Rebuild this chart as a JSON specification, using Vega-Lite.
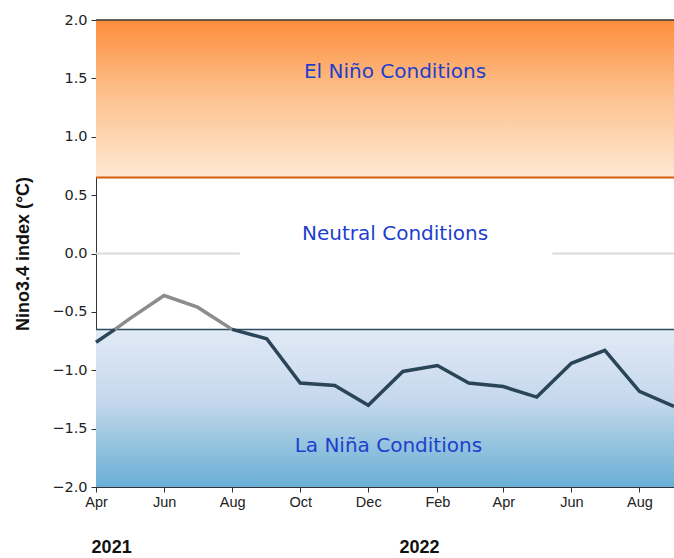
{
  "$schema": "https://vega.github.io/schema/vega-lite/v6.json",
  "width": 578,
  "height": 467,
  "autosize": {"type": "none"},
  "padding": {"left": 96, "top": 20, "right": 0, "bottom": 71},
  "background": "white",
  "view": {"stroke": null},
  "datasets": {
    "series": [
      {"date": "2021-04-01", "value": -0.76, "seg": "below1"},
      {"date": "2021-04-18", "value": -0.65, "seg": "below1"},
      {"date": "2021-04-18", "value": -0.65, "seg": "above"},
      {"date": "2021-05-01", "value": -0.56, "seg": "above"},
      {"date": "2021-06-01", "value": -0.36, "seg": "above"},
      {"date": "2021-07-01", "value": -0.46, "seg": "above"},
      {"date": "2021-08-01", "value": -0.65, "seg": "above"},
      {"date": "2021-08-01", "value": -0.65, "seg": "below2"},
      {"date": "2021-09-01", "value": -0.73, "seg": "below2"},
      {"date": "2021-10-01", "value": -1.11, "seg": "below2"},
      {"date": "2021-11-01", "value": -1.13, "seg": "below2"},
      {"date": "2021-12-01", "value": -1.30, "seg": "below2"},
      {"date": "2022-01-01", "value": -1.01, "seg": "below2"},
      {"date": "2022-02-01", "value": -0.96, "seg": "below2"},
      {"date": "2022-03-01", "value": -1.11, "seg": "below2"},
      {"date": "2022-04-01", "value": -1.14, "seg": "below2"},
      {"date": "2022-05-01", "value": -1.23, "seg": "below2"},
      {"date": "2022-06-01", "value": -0.94, "seg": "below2"},
      {"date": "2022-07-01", "value": -0.83, "seg": "below2"},
      {"date": "2022-08-01", "value": -1.18, "seg": "below2"},
      {"date": "2022-09-01", "value": -1.31, "seg": "below2"}
    ],
    "bands": [
      {"start": "2021-04-01", "end": "2022-09-01", "lo": 0.65, "hi": 2.0, "band": "elnino"},
      {"start": "2021-04-01", "end": "2022-09-01", "lo": -2.0, "hi": -0.65, "band": "lanina"}
    ],
    "zero": [
      {"start": "2021-04-01", "end": "2021-08-08", "value": 0},
      {"start": "2022-05-15", "end": "2022-09-01", "value": 0}
    ],
    "labels": [
      {"date": "2021-12-25", "value": 1.555, "text": "El Niño Conditions"},
      {"date": "2021-12-25", "value": 0.167, "text": "Neutral Conditions"},
      {"date": "2021-12-19", "value": -1.65, "text": "La Niña Conditions"}
    ],
    "years": [
      {"date": "2021-04-15", "value": -2.52, "text": "2021"},
      {"date": "2022-01-16", "value": -2.52, "text": "2022"}
    ]
  },
  "encoding": {
    "x": {
      "field": "date",
      "type": "temporal",
      "scale": {"type": "utc", "domain": [{"year": 2021, "month": 4, "date": 1, "utc": true}, {"year": 2022, "month": 9, "date": 1, "utc": true}]},
      "axis": {
        "title": null,
        "labelExpr": "utcFormat(datum.value, '%b')",
        "values": [
          {"year": 2021, "month": 4, "date": 1, "utc": true},
          {"year": 2021, "month": 6, "date": 1, "utc": true},
          {"year": 2021, "month": 8, "date": 1, "utc": true},
          {"year": 2021, "month": 10, "date": 1, "utc": true},
          {"year": 2021, "month": 12, "date": 1, "utc": true},
          {"year": 2022, "month": 2, "date": 1, "utc": true},
          {"year": 2022, "month": 4, "date": 1, "utc": true},
          {"year": 2022, "month": 6, "date": 1, "utc": true},
          {"year": 2022, "month": 8, "date": 1, "utc": true}
        ],
        "grid": false,
        "domainColor": "#333333",
        "tickColor": "#333333",
        "tickSize": 5,
        "labelFont": "Liberation Sans",
        "labelFontSize": 14.5,
        "labelColor": "#222222",
        "labelPadding": 3,
        "labelFlush": false
      }
    },
    "y": {
      "field": "value",
      "type": "quantitative",
      "scale": {"domain": [-2, 2], "nice": false, "zero": false},
      "axis": {
        "title": "Nino3.4 index (°C)",
        "titleFont": "Liberation Sans",
        "titleFontSize": 18,
        "titleFontWeight": "bold",
        "titleColor": "#111111",
        "titlePadding": 19,
        "values": [-2, -1.5, -1, -0.5, 0, 0.5, 1, 1.5, 2],
        "format": ".1f",
        "grid": false,
        "domainColor": "#333333",
        "tickColor": "#333333",
        "tickSize": 5,
        "labelFont": "DejaVu Sans",
        "labelFontSize": 14.5,
        "labelColor": "#222222",
        "labelPadding": 4
      }
    }
  },
  "layer": [
    {
      "data": {"name": "bands"},
      "transform": [{"filter": "datum.band === 'elnino'"}],
      "mark": {"type": "rect", "color": {"gradient": "linear", "x1": 0, "y1": 0, "x2": 0, "y2": 1, "stops": [{"offset": 0, "color": "#fd8d3c"}, {"offset": 0.45, "color": "#fdbf8a"}, {"offset": 1, "color": "#fee8d3"}]}},
      "encoding": {
        "x": {"field": "start", "type": "temporal"},
        "x2": {"field": "end"},
        "y": {"field": "hi", "type": "quantitative"},
        "y2": {"field": "lo"}
      }
    },
    {
      "data": {"name": "bands"},
      "transform": [{"filter": "datum.band === 'lanina'"}],
      "mark": {"type": "rect", "color": {"gradient": "linear", "x1": 0, "y1": 0, "x2": 0, "y2": 1, "stops": [{"offset": 0, "color": "#e1eaf6"}, {"offset": 0.45, "color": "#c6d8ed"}, {"offset": 0.7, "color": "#9ac6e0"}, {"offset": 1, "color": "#6aaed6"}]}},
      "encoding": {
        "x": {"field": "start", "type": "temporal"},
        "x2": {"field": "end"},
        "y": {"field": "hi", "type": "quantitative"},
        "y2": {"field": "lo"}
      }
    },
    {
      "data": {"name": "zero"},
      "mark": {"type": "rule", "color": "#d9d9d9", "strokeWidth": 2},
      "encoding": {
        "x": {"field": "start", "type": "temporal"},
        "x2": {"field": "end"},
        "y": {"field": "value", "type": "quantitative"}
      }
    },
    {
      "data": {"values": [{"value": 0.65}]},
      "mark": {"type": "rule", "color": "#d55e0e", "strokeWidth": 2},
      "encoding": {"y": {"field": "value", "type": "quantitative"}, "x": null}
    },
    {
      "data": {"values": [{"value": -0.65}]},
      "mark": {"type": "rule", "color": "#2f4b60", "strokeWidth": 1.5},
      "encoding": {"y": {"field": "value", "type": "quantitative"}, "x": null}
    },
    {
      "data": {"values": [{"value": 2}]},
      "mark": {"type": "rule", "color": "#333333", "strokeWidth": 1.5},
      "encoding": {"y": {"field": "value", "type": "quantitative"}, "x": null}
    },
    {
      "data": {"name": "series"},
      "mark": {"type": "line", "strokeWidth": 3.5, "strokeJoin": "miter", "strokeCap": "butt"},
      "encoding": {
        "detail": {"field": "seg", "type": "nominal"},
        "color": {
          "field": "seg",
          "type": "nominal",
          "scale": {"domain": ["above", "below1", "below2"], "range": ["#8c8c8c", "#2b4558", "#2b4558"]},
          "legend": null
        }
      }
    },
    {
      "data": {"name": "labels"},
      "mark": {"type": "text", "font": "DejaVu Sans", "fontSize": 20, "color": "#1d3fcc", "align": "center", "baseline": "middle"},
      "encoding": {"text": {"field": "text"}}
    },
    {
      "data": {"name": "years"},
      "mark": {"type": "text", "font": "Liberation Sans", "fontSize": 18, "fontWeight": "bold", "color": "#111111", "align": "center", "baseline": "middle", "clip": false},
      "encoding": {"text": {"field": "text"}}
    }
  ]
}
